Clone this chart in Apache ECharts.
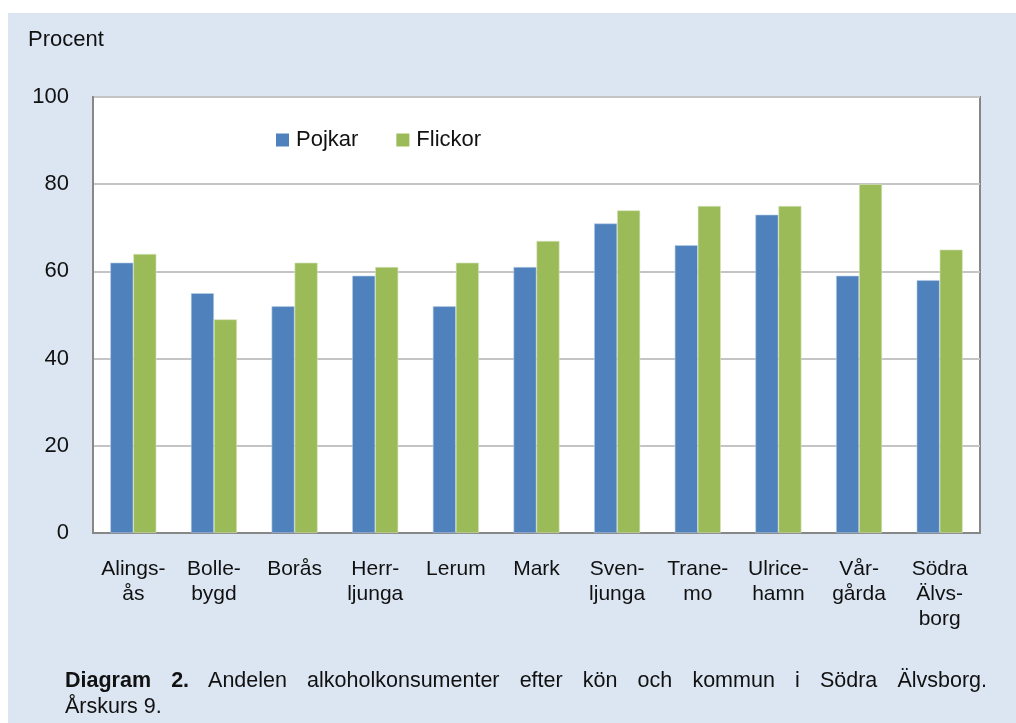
<!DOCTYPE html>
<html>
<head>
<meta charset="utf-8">
<script src="https://cdn.jsdelivr.net/npm/echarts@6/dist/echarts.min.js"></script>
<style>
html,body{margin:0;padding:0;background:#fff;}
#wrap{position:relative;width:1016px;height:723px;}
#chart{position:absolute;left:0;top:0;width:1016px;height:723px;}
#caption{position:absolute;left:65px;top:667px;width:922px;font-family:"Liberation Sans",Arial,sans-serif;font-size:21.5px;line-height:26px;color:#111;}
#caption .l1{text-align:justify;text-align-last:justify;}
</style>
</head>
<body>
<div id="wrap">
<div id="chart"></div>
<div id="caption"><div class="l1"><b>Diagram 2.</b> Andelen alkoholkonsumenter efter kön och kommun i Södra Älvsborg.</div><div>Årskurs 9.</div></div>
</div>
<script>
// kommuner (radbrytning som i originalet)
var kommuner = ['Alings-\nås', 'Bolle-\nbygd', 'Borås', 'Herr-\nljunga', 'Lerum', 'Mark',
    'Sven-\nljunga', 'Trane-\nmo', 'Ulrice-\nhamn', 'Vår-\ngårda', 'Södra\nÄlvs-\nborg'];
var pojkar = [62, 55, 52, 59, 52, 61, 71, 66, 73, 59, 58];
var flickor = [64, 49, 62, 61, 62, 67, 74, 75, 75, 80, 65];
var yTicks = [0, 20, 40, 60, 80, 100];

var font = '"Liberation Sans", Arial, sans-serif';

var myChart = echarts.init(document.getElementById('chart'));
var option = {
    animation: false,
    graphic: [{
        type: 'rect',
        z: -10,
        shape: {x: 8, y: 13, width: 1008, height: 710},
        style: {fill: '#dce6f2'}
    }, {
        type: 'text',
        left: 28,
        top: 29,
        style: {text: 'Procent', fontFamily: font, fontSize: 22, fill: '#111'}
    }],
    legend: {
        left: 276,
        top: 129,
        padding: 0,
        itemWidth: 13,
        itemHeight: 13,
        itemGap: 38,
        icon: 'rect',
        itemStyle: {borderWidth: 0},
        textStyle: {fontFamily: font, fontSize: 22, color: '#111', padding: [0, 0, 0, 2]},
        data: ['Pojkar', 'Flickor']
    },
    grid: {
        left: 93, top: 97, width: 887, height: 436,
        show: true,
        backgroundColor: '#fff',
        borderColor: '#878787',
        borderWidth: 2
    },
    xAxis: {
        type: 'category',
        data: kommuner,
        axisLine: {show: true, lineStyle: {color: '#878787', width: 2}},
        axisTick: {show: false},
        axisLabel: {
            interval: 0,
            margin: 24,
            fontFamily: font,
            fontSize: 21,
            lineHeight: 25,
            color: '#111',
            verticalAlign: 'top'
        }
    },
    yAxis: {
        type: 'value',
        min: yTicks[0],
        max: yTicks[yTicks.length - 1],
        interval: 20,
        axisLine: {show: true, lineStyle: {color: '#878787', width: 2}},
        axisTick: {show: false},
        axisLabel: {margin: 24, fontFamily: font, fontSize: 22, color: '#111'},
        splitLine: {lineStyle: {color: '#c4c4c4', width: 2}}
    },
    series: [{
        name: 'Pojkar',
        type: 'bar',
        barWidth: 23,
        barGap: '0%',
        itemStyle: {color: '#4f81bd', borderColor: '#b9cde5', borderWidth: 0.6},
        data: pojkar
    }, {
        name: 'Flickor',
        type: 'bar',
        barWidth: 23,
        barGap: '0%',
        itemStyle: {color: '#9bbb59', borderColor: '#d7e4bd', borderWidth: 0.6},
        data: flickor
    }]
};
myChart.setOption(option);
</script>
</body>
</html>
